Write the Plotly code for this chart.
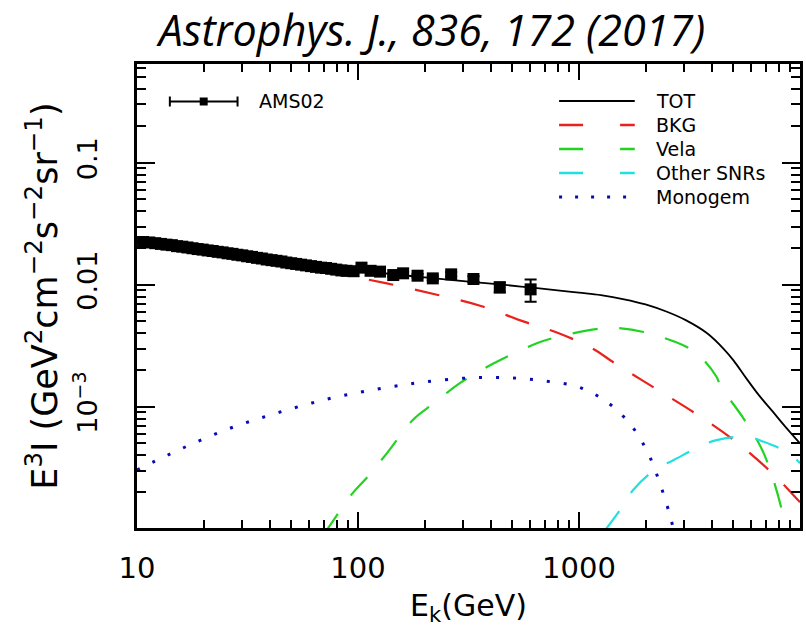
import plotly.graph_objects as go

# ---------------- data ----------------
# AMS-02 electron+positron flux, E^3 I  [GeV^2 cm^-2 s^-1 sr^-1]
ams_E = [10.65, 11.36, 12.09, 12.83, 13.59, 14.37, 15.18, 16.03, 16.91, 17.83,
         18.80, 19.82, 20.88, 22.00, 23.18, 24.40, 25.69, 27.04, 28.45, 29.94,
         31.51, 33.15, 34.89, 36.71, 38.63, 40.65, 42.78, 45.02, 47.39, 49.88,
         52.50, 55.27, 58.20, 61.29, 64.56, 68.02, 71.69, 75.58, 79.71, 84.09,
         88.72, 95.5, 103.7, 114.0, 125.8, 144.4, 160.0, 186.0, 218.0, 264.0,
         333.0, 438.0, 604.0]
ams_flux = [0.0224, 0.0222, 0.0219, 0.0216, 0.0213, 0.0211, 0.0207, 0.0205, 0.0202, 0.0199,
            0.0196, 0.0194, 0.0191, 0.0189, 0.0186, 0.0184, 0.0181, 0.0179, 0.0176, 0.0174,
            0.0171, 0.0169, 0.0166, 0.0164, 0.0161, 0.0159, 0.0157, 0.0155, 0.0152, 0.0150,
            0.0148, 0.0146, 0.0144, 0.0142, 0.0140, 0.0138, 0.0137, 0.0135, 0.0133, 0.0131,
            0.0130, 0.0129, 0.0138, 0.0130, 0.0128, 0.0120, 0.0124, 0.01185, 0.01127, 0.01216,
            0.01114, 0.00953, 0.00916]
ams_err = [0.0002] * 42 + [0.0003, 0.0003, 0.0003, 0.0003, 0.0004, 0.0004, 0.0004, 0.0005,
                           0.0006, 0.0009, 0.0019]

# model curves
tot_E = [10, 15, 20, 30, 50, 70, 100, 150, 200, 300, 450, 600, 800, 1000, 1256, 1600,
         2000, 2500, 3055, 3800, 4500, 5000, 5728, 6500, 7500, 8500, 10000]
tot_I = [0.0226, 0.0206, 0.0193, 0.0174, 0.0153, 0.0141, 0.0131, 0.0121, 0.0115, 0.0107,
         0.0100, 0.0095, 0.0090, 0.0086, 0.0082, 0.0076, 0.0069, 0.0060, 0.0051, 0.0040,
         0.0030, 0.0024, 0.0017, 0.00125, 0.00092, 0.00070, 0.00050]

bkg_E = [10, 20, 30, 50, 86.5, 135, 230, 360, 564, 805, 1151, 1437, 2148, 3357, 5014,
         7494, 9790, 10000]
bkg_I = [0.0222, 0.0189, 0.0168, 0.0142, 0.0120, 0.01026, 0.00824, 0.00669, 0.00498,
         0.00402, 0.0030, 0.0023, 0.00146, 0.000883, 0.000533, 0.000285, 0.000172, 0.000165]

vela_E = [70, 74, 94.4, 110.6, 135, 177, 221, 289, 412, 644, 805, 1256, 1500, 1960,
          3055, 3600, 4190, 4385, 5482, 6855, 8570, 9500]
vela_I = [0.000090, 0.000104, 0.000195, 0.000267, 0.000415, 0.000778, 0.00107, 0.00156,
          0.00227, 0.00331, 0.00375, 0.00438, 0.00442, 0.00410, 0.00310, 0.00250,
          0.00176, 0.00146, 0.000828, 0.000415, 0.000111, 0.000040]

snr_E = [1300, 1535, 1758, 2197, 2685, 3500, 4190, 5728, 6855, 8950, 10000]
snr_I = [0.000095, 0.000143, 0.000208, 0.000303, 0.000366, 0.000470, 0.000533,
         0.000568, 0.000516, 0.000415, 0.000344]

mono_E = [10, 13.8, 19, 26.3, 36.6, 51.3, 71.7, 101, 143, 202, 314, 475, 689, 984,
          1332, 1718, 2055, 2350, 2590, 2750]
mono_I = [0.000303, 0.000402, 0.000523, 0.000665, 0.000813, 0.000976, 0.00115, 0.00131,
          0.00146, 0.00160, 0.00172, 0.00173, 0.00163, 0.00146, 0.00110, 0.000708,
          0.000415, 0.000221, 0.000125, 0.000080]

y_tickvals = [1e-3, 1e-2, 1e-1]
y_ticktext = ["10<sup>\u22123</sup>", "0.01", "0.1"]
x_tickvals = [10, 100, 1000]
x_ticktext = ["10", "100", "1000"]

legend_names = ["TOT", "BKG", "Vela", "Other SNRs", "Monogem"]

# ---------------- styling ----------------
RED = "#e8221c"
GREEN = "#22d322"
CYAN = "#22e0e0"
BLUE = "#0a0ab4"
DASH = "25px,22px"
DOT = "3px,14px"
FONT = "DejaVu Sans"

W, H = 806, 627
ML, MR, MT, MB = 137, 3, 64, 99
PW, PH = W - ML - MR, H - MT - MB

fig = go.Figure()
fig.add_trace(go.Scatter(x=bkg_E, y=bkg_I, mode="lines", name="BKG",
                         line=dict(color=RED, width=2.2, dash=DASH, shape="spline")))
fig.add_trace(go.Scatter(x=vela_E, y=vela_I, mode="lines", name="Vela",
                         line=dict(color=GREEN, width=2.2, dash=DASH, shape="spline")))
fig.add_trace(go.Scatter(x=snr_E, y=snr_I, mode="lines", name="Other SNRs",
                         line=dict(color=CYAN, width=2.2, dash=DASH, shape="spline")))
fig.add_trace(go.Scatter(x=mono_E, y=mono_I, mode="lines", name="Monogem",
                         line=dict(color=BLUE, width=3, dash=DOT, shape="spline")))
fig.add_trace(go.Scatter(x=tot_E, y=tot_I, mode="lines", name="TOT",
                         line=dict(color="black", width=1.8, shape="spline")))
fig.add_trace(go.Scatter(x=ams_E, y=ams_flux, mode="markers", name="AMS02",
                         marker=dict(symbol="square", size=12, color="black"),
                         error_y=dict(type="data", array=ams_err, color="black",
                                      thickness=2, width=6)))


def px(xp):
    return (xp - ML) / PW


def py(yp):
    return (H - MB - yp) / PH


shapes = []
annotations = []
# right-hand legend (line samples + labels)
row_y = [101, 125, 149, 173, 197]
styles = [dict(color="black", width=2),
          dict(color=RED, width=2.5, dash="24px,37px"),
          dict(color=GREEN, width=2.5, dash="24px,37px"),
          dict(color=CYAN, width=2.5, dash="24px,37px"),
          dict(color=BLUE, width=3, dash="3px,13px")]
for name, yy, st in zip(legend_names, row_y, styles):
    shapes.append(dict(type="line", xref="paper", yref="paper",
                       x0=px(561), x1=px(637), y0=py(yy), y1=py(yy), line=st))
    annotations.append(dict(text=name, xref="paper", yref="paper", x=px(656), y=py(yy),
                            xanchor="left", yanchor="middle", showarrow=False,
                            font=dict(family=FONT, size=19, color="black")))
# AMS02 legend symbol
yy = 101.5
shapes.append(dict(type="line", xref="paper", yref="paper", x0=px(170), x1=px(238),
                   y0=py(yy), y1=py(yy), line=dict(color="black", width=2)))
for xc in (170, 238):
    shapes.append(dict(type="line", xref="paper", yref="paper", x0=px(xc), x1=px(xc),
                       y0=py(yy - 5), y1=py(yy + 5), line=dict(color="black", width=2)))
shapes.append(dict(type="rect", xref="paper", yref="paper", x0=px(200), x1=px(208),
                   y0=py(yy + 4), y1=py(yy - 4), fillcolor="black", line=dict(width=0)))
annotations.append(dict(text="AMS02", xref="paper", yref="paper", x=px(258), y=py(yy),
                        xanchor="left", yanchor="middle", showarrow=False,
                        font=dict(family=FONT, size=19, color="black")))

x_minor = [m * d for d in (10, 100, 1000) for m in range(2, 10)]
y_minor = [m * d for d in (1e-4, 1e-3, 1e-2, 1e-1) for m in range(2, 10) if m * d < 0.65]

fig.update_layout(
    width=W, height=H,
    margin=dict(l=ML, r=MR, t=MT, b=MB, pad=0),
    paper_bgcolor="white", plot_bgcolor="white",
    showlegend=False,
    title=dict(text="<i>Astrophys. J., 836, 172 (2017)</i>",
               font=dict(family="Open Sans", size=43, color="black"),
               x=432 / W, xanchor="center", xref="container",
               y=1 - 31 / H, yanchor="middle", yref="container"),
    shapes=shapes, annotations=annotations,
)
fig.update_xaxes(type="log", range=[1, 4.0], showgrid=False, zeroline=False,
                 showline=True, linecolor="black", linewidth=3, mirror="ticks",
                 ticks="inside", ticklen=16, tickwidth=2, tickcolor="black",
                 tickmode="array", tickvals=x_tickvals, ticktext=x_ticktext,
                 tickfont=dict(family=FONT, size=29, color="black"),
                 ticklabelstandoff=12,
                 minor=dict(tickmode="array", tickvals=x_minor, ticks="inside",
                            ticklen=8, tickwidth=2, tickcolor="black", showgrid=False),
                 title=dict(text="E<sub>k</sub>(GeV)", standoff=14,
                            font=dict(family=FONT, size=30, color="black")))
fig.update_yaxes(type="log", range=[-3.994, -0.191], showgrid=False, zeroline=False,
                 showline=True, linecolor="black", linewidth=3, mirror="ticks",
                 ticks="inside", ticklen=18, tickwidth=2, tickcolor="black",
                 tickmode="array", tickvals=y_tickvals, ticktext=y_ticktext,
                 tickangle=-90, tickfont=dict(family=FONT, size=27, color="black"),
                 ticklabelstandoff=26,
                 minor=dict(tickmode="array", tickvals=y_minor, ticks="inside",
                            ticklen=9, tickwidth=2, tickcolor="black", showgrid=False),
                 title=dict(text="E<sup>3</sup>I (GeV<sup>2</sup>cm<sup>\u22122</sup>"
                                 "s<sup>\u22122</sup>sr<sup>\u22121</sup>)",
                            standoff=0,
                            font=dict(family=FONT, size=35, color="black")))

fig.write_html("out.html")
